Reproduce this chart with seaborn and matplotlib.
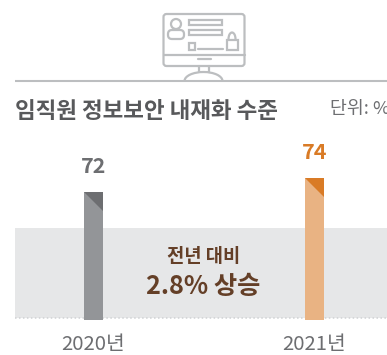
import matplotlib
matplotlib.use("Agg")
import matplotlib.pyplot as plt
from matplotlib.patches import Polygon, Rectangle, FancyBboxPatch, Circle, Arc
import seaborn as sns
import pandas as pd

years = ["2020년", "2021년"]
values = [72, 74]
labels = ["72", "74"]
bar_colors = ["#939598", "#e9b383"]
corner_colors = ["#6d6e71", "#d97b26"]
label_colors = ["#6d6e71", "#d97b26"]
band_top = 66.86
title = "임직원 정보보안 내재화 수준"
unit = "단위: %"
note1 = "전년 대비"
note2 = "2.8% 상승"

sns.set_theme(style="white")
plt.rcParams["font.family"] = ["Noto Sans CJK KR", "DejaVu Sans"]

W, H = 387, 355
fig = plt.figure(figsize=(W / 100, H / 100), dpi=100, facecolor="white")

# chart axes: pixel box x 15..387, y 130..320
ax = fig.add_axes([15 / W, 1 - 320 / H, 372 / W, 190 / H])
df = pd.DataFrame({"year": years, "value": values})
sns.barplot(data=df, x="year", y="value", hue="year", palette=bar_colors,
            order=years, width=0.086, legend=False, ax=ax, saturation=1,
            zorder=3, linewidth=0, edgecolor="none")
ax.set_xlim(-0.355, 1.328)
ax.set_ylim(53.714, 80.857)
ax.axhspan(54.0, band_top, color="#e6e7e8", lw=0, zorder=1)
ax.axhline(54.0, color="#d0d2d4", lw=1.1, ls=(0, (1, 1.6)), zorder=2)
for s in ax.spines.values():
    s.set_visible(False)
ax.patch.set_alpha(0)
ax.set_xlabel("")
ax.set_ylabel("")
ax.set_yticks([])
ax.set_xticks(range(len(years)))
ax.set_xticklabels(years, fontsize=14.6, color="#6d6e71")
ax.tick_params(axis="x", length=0, pad=10)

fig.canvas.draw()
bars = sorted(ax.patches, key=lambda p: p.get_x())
bars = [b for b in bars if b.get_width() < 0.5][:2]
px_y = (ax.get_ylim()[1] - ax.get_ylim()[0]) / 190  # data units per pixel
for b, v, lab, cc, lc in zip(bars, values, labels, corner_colors, label_colors):
    x0, x1 = b.get_x(), b.get_x() + b.get_width()
    drop = (x1 - x0) / (1 / 221) * px_y  # 45 degree cut in pixels
    ax.add_patch(Polygon([(x0, v), (x1, v), (x1, v - drop)], closed=True,
                         fc=cc, ec="none", zorder=4))
    ax.annotate(lab, (0.5 * (x0 + x1), v), xytext=(0, 10.5), textcoords="offset points",
                ha="center", va="bottom", fontsize=15.5, fontweight="bold", color=lc)

ax.text(0.498, 62.75, note1, ha="center", va="center", fontsize=13.5, fontweight="bold", color="#643f27", zorder=5)
ax.text(0.498, 58.55, note2, ha="center", va="center", fontsize=18.2, fontweight="bold", color="#643f27", zorder=5)

# overlay in pixel coordinates for the header and the icon
ov = fig.add_axes([0, 0, 1, 1])
ov.set_xlim(0, W)
ov.set_ylim(H, 0)
ov.axis("off")
ov.patch.set_alpha(0)
ic = "#bcbec0"
lw = 1.6
ov.add_patch(FancyBboxPatch((163.5, 14), 81, 52, boxstyle="round,pad=0,rounding_size=3", fc="none", ec=ic, lw=lw))
ov.plot([163.5, 244.5], [55, 55], color=ic, lw=lw)
ov.plot([198, 211], [59, 59], color=ic, lw=lw)
ov.plot([199, 199], [66, 72], color=ic, lw=lw)
ov.plot([209, 209], [66, 72], color=ic, lw=lw)
ov.add_patch(Arc((203.5, 81), 38, 18, theta1=180, theta2=360, color=ic, lw=lw))
ov.add_patch(Circle((176, 24), 5, fc="none", ec=ic, lw=lw))
ov.add_patch(FancyBboxPatch((168, 30), 16, 9, boxstyle="round,pad=0,rounding_size=4", fc="none", ec=ic, lw=lw))
ov.add_patch(Rectangle((189, 20), 33, 5, fc="none", ec=ic, lw=lw))
ov.add_patch(Rectangle((189, 30), 33, 5, fc="none", ec=ic, lw=lw))
ov.add_patch(Rectangle((189, 43), 6, 6.5, fc="none", ec=ic, lw=lw))
ov.plot([198, 223], [49, 49], color=ic, lw=lw)
ov.add_patch(Rectangle((226.5, 39.5), 11.5, 10, fc="none", ec=ic, lw=lw))
ov.add_patch(Arc((232, 39), 7, 13, theta1=180, theta2=360, color=ic, lw=lw))
ov.plot([15, 387], [81, 81], color="#bcbec0", lw=1.5, solid_capstyle="butt")

ov.text(15, 111, title, ha="left", va="center", fontsize=16.2, fontweight="bold", color="#58595b")
ov.text(330, 109, unit, ha="left", va="center", fontsize=13.2, color="#6d6e71", clip_on=True)

fig.savefig("out.png", dpi=100, facecolor="white")
